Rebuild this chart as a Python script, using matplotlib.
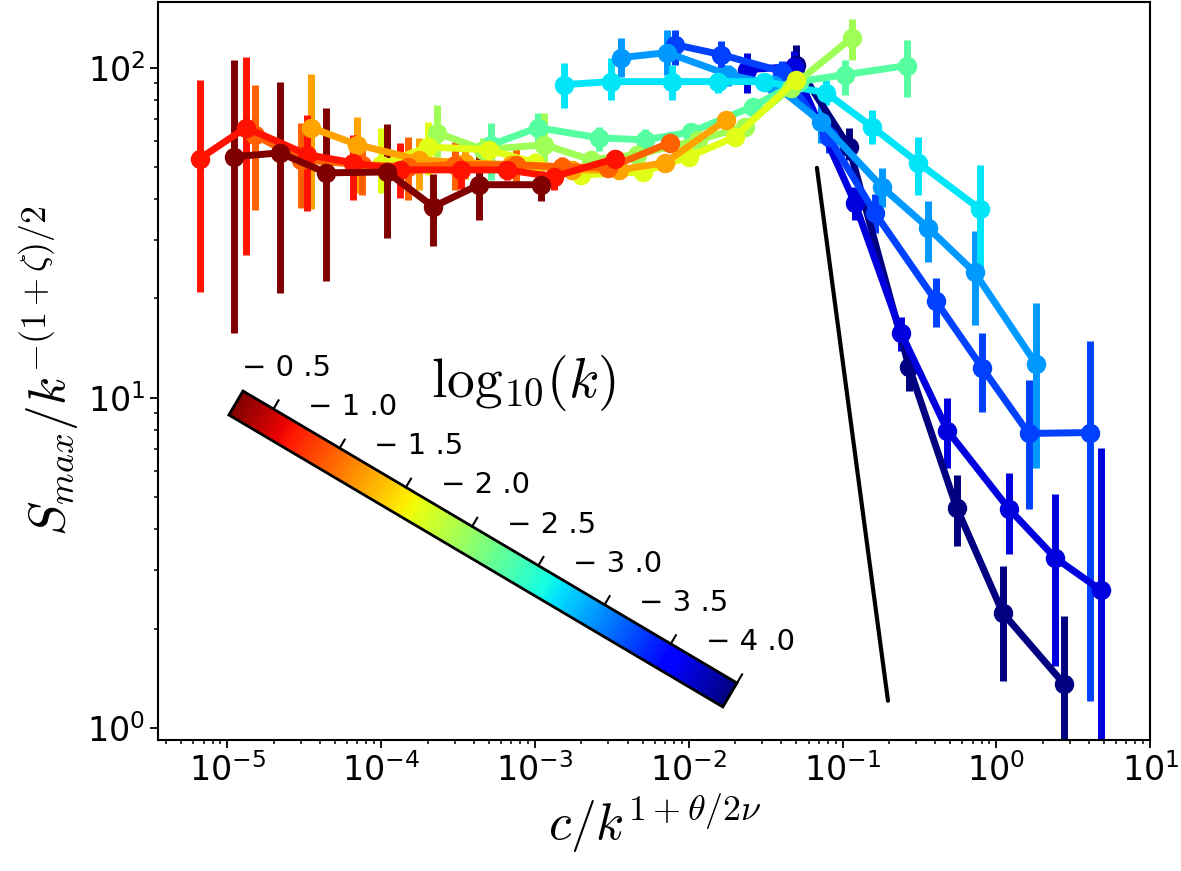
import numpy as np
import matplotlib.pyplot as plt
from matplotlib.collections import PolyCollection
from matplotlib.patches import Polygon
from matplotlib.ticker import LogLocator

plt.rcParams['mathtext.fontset'] = 'cm'

# ── data ──
log10_k = [-0.27, -0.69, -0.99, -1.26, -1.68, -1.97, -2.30, -2.69, -2.97, -3.30, -3.69, -4.00]

c_scaled = [
    [1.1e-5, 2.2e-5, 4.4e-5, 1.09e-4, 2.18e-4, 4.33e-4, 1.09e-3],
    [6.6e-6, 1.32e-5, 3.3e-5, 6.6e-5, 1.32e-4, 3.3e-4, 6.6e-4, 1.32e-3, 3.3e-3],
    [1.5e-5, 3.0e-5, 7.5e-5, 1.5e-4, 3.0e-4, 7.5e-4, 1.5e-3, 3.0e-3, 7.5e-3],
    [3.5e-5, 7.0e-5, 1.75e-4, 3.5e-4, 7.0e-4, 1.75e-3, 3.5e-3, 7.0e-3, 1.75e-2],
    [1.0e-4, 2.0e-4, 5.0e-4, 1.0e-3, 2.0e-3, 5.0e-3, 1.0e-2, 2.0e-2, 5.0e-2],
    [2.3e-4, 4.6e-4, 1.15e-3, 2.3e-3, 4.6e-3, 1.15e-2, 2.3e-2, 4.6e-2, 0.115],
    [5.2e-4, 1.04e-3, 2.6e-3, 5.2e-3, 1.04e-2, 2.6e-2, 5.2e-2, 0.104, 0.26],
    [1.55e-3, 3.1e-3, 7.8e-3, 1.55e-2, 3.1e-2, 7.8e-2, 0.155, 0.31, 0.78],
    [3.6e-3, 7.2e-3, 1.8e-2, 3.6e-2, 7.2e-2, 0.18, 0.36, 0.72, 1.8],
    [8.1e-3, 1.62e-2, 4.05e-2, 8.1e-2, 0.162, 0.405, 0.81, 1.62, 4.05],
    [2.4e-2, 4.8e-2, 0.12, 0.24, 0.48, 1.2, 2.4, 4.8],
    [0.05, 0.11, 0.27, 0.55, 1.1, 2.75],
]

s_scaled = [
    [53.7, 55.2, 48.0, 48.3, 37.9, 44.2, 44.2],
    [53.0, 65.8, 54.5, 51.5, 49.0, 49.0, 49.0, 46.7, 53.0],
    [62.6, 52.6, 50.8, 50.1, 50.8, 50.8, 50.1, 49.7, 59.2],
    [65.8, 58.4, 52.6, 51.5, 50.8, 49.0, 49.0, 51.5, 69.5],
    [50.8, 57.5, 56.4, 51.5, 47.3, 48.3, 53.7, 61.7, 92.0],
    [63.5, 56.4, 58.4, 52.6, 54.5, 60.4, 66.2, 87.0, 123.3],
    [58.4, 65.8, 61.3, 60.4, 63.9, 76.2, 90.7, 95.2, 101.4],
    [88.8, 90.7, 90.7, 90.7, 90.7, 83.9, 66.2, 51.5, 37.3],
    [107.2, 111.0, 95.2, 88.8, 68.6, 43.5, 32.7, 24.0, 12.7],
    [117.4, 109.5, 97.3, 61.7, 36.3, 19.6, 12.3, 7.80, 7.85],
    [98.6, 100.7, 38.9, 15.7, 7.96, 4.62, 3.28, 2.61],
    [102.1, 57.5, 12.4, 4.65, 2.23, 1.36],
]

s_low = [
    [15.7, 20.7, 22.6, 30.5, 28.8, 34.6, 39.5],
    [20.9, 27.1, 36.8, 39.7, 40.3, 42.9, 45.7, 42.6, 49.7],
    [37.1, 37.6, 41.2, 39.7, 42.6, 45.1, 47.0, 47.0, 56.0],
    [37.3, 41.8, 42.6, 46.0, 47.0, 46.0, 46.0, 48.5, 66.0],
    [41.8, 47.3, 50.8, 48.0, 44.5, 45.5, 50.5, 58.0, 87.0],
    [53.7, 52.0, 51.5, 49.5, 51.0, 57.0, 62.5, 83.0, 105.8],
    [45.7, 58.4, 56.0, 56.0, 60.0, 72.0, 86.0, 82.8, 81.7],
    [75.6, 80.0, 80.0, 84.0, 86.0, 77.2, 58.8, 41.2, 24.4],
    [93.9, 95.2, 88.0, 83.0, 59.2, 37.9, 25.8, 16.6, 6.15],
    [102.1, 100.0, 90.0, 55.0, 31.6, 16.4, 9.04, 4.62, 1.21],
    [83.9, 90.0, 34.6, 13.9, 6.11, 3.37, 1.54, 0.5],
    [85.7, 52.6, 10.5, 3.57, 1.39, 0.5],
]

s_high = [
    [105.7, 90.7, 75.6, 67.6, 47.7, 54.1, 48.7],
    [92.0, 108.0, 72.0, 62.6, 59.2, 53.7, 52.6, 50.8, 56.4],
    [88.8, 68.1, 59.2, 61.7, 59.6, 57.2, 53.5, 52.5, 62.5],
    [95.9, 71.0, 61.3, 56.0, 54.0, 52.0, 52.0, 54.5, 73.0],
    [65.8, 68.6, 60.4, 55.0, 50.0, 51.0, 57.0, 65.5, 97.0],
    [77.2, 61.0, 73.0, 56.0, 58.0, 64.0, 70.0, 91.0, 139.9],
    [68.1, 73.0, 66.0, 65.0, 68.0, 80.0, 95.0, 105.8, 121.6],
    [103.6, 107.2, 102.1, 98.0, 96.0, 92.0, 74.6, 61.7, 50.8],
    [123.3, 130.4, 102.0, 95.0, 80.0, 49.7, 39.5, 32.0, 19.4],
    [130.4, 120.0, 105.0, 69.0, 41.5, 23.1, 15.7, 11.3, 14.9],
    [111.0, 112.0, 43.5, 17.6, 10.0, 5.90, 5.13, 7.03],
    [117.4, 65.7, 13.9, 5.82, 3.10, 2.19],
]

# guide line (power law)
guide_c = [0.068, 0.197]
guide_s = [49.7, 1.21]

cbar_ticks = [-0.5, -1.0, -1.5, -2.0, -2.5, -3.0, -3.5, -4.0]

# ── figure ──
fig = plt.figure(figsize=(11.81, 8.71), dpi=100)
ax = fig.add_axes([0.134, 0.1504, 0.840, 0.8473])

cmap = plt.get_cmap('jet')
norm = plt.Normalize(min(log10_k), max(log10_k))

for i in np.argsort(log10_k):
    x = np.array(c_scaled[i])
    y = np.array(s_scaled[i])
    err = [y - np.array(s_low[i]), np.array(s_high[i]) - y]
    ax.errorbar(x, y, yerr=err, color=cmap(norm(log10_k[i])), marker='o',
                ms=13, lw=5, elinewidth=5, capsize=0)

ax.plot(guide_c, guide_s, color='k', lw=3, solid_capstyle='round')

ax.set_xscale('log')
ax.set_yscale('log')
ax.set_xlim(3.55e-6, 10)
ax.set_ylim(0.92, 158)
ax.xaxis.set_major_locator(LogLocator(base=10, numticks=20))
ax.yaxis.set_major_locator(LogLocator(base=10, numticks=20))
ax.tick_params(which='major', labelsize=24, length=6, width=1.3)
ax.tick_params(which='minor', length=3.2, width=1.1)
for sp in ax.spines.values():
    sp.set_linewidth(1.5)

ax.set_xlabel(r'$c/k^{1+\theta/2\nu}$', fontsize=37, labelpad=2)
ax.set_ylabel(r'$S_{max}/k^{-(1+\zeta)/2}$', fontsize=37, labelpad=4)

# ── tilted colorbar (overlay in pixel coords) ──
ov = fig.add_axes([0, 0, 1, 1])
ov.set_xlim(0, 1181)
ov.set_ylim(871, 0)
ov.axis('off')

top_left = np.array([243.0, 391.0])
top_right = np.array([737.0, 683.0])
bar_w = 27.8
vec = top_right - top_left
L = np.hypot(*vec)
u = vec / L
n_out = np.array([u[1], -u[0]])
v_left, v_right = max(log10_k), min(log10_k)

nseg = 200
quads, vals = [], []
for j in range(nseg):
    s0, s1 = L * j / nseg, L * (j + 1) / nseg
    p0 = top_left + u * s0
    p1 = top_left + u * s1
    quads.append([p0, p1, p1 - bar_w * n_out, p0 - bar_w * n_out])
    vals.append(v_left + (v_right - v_left) * (s0 + s1) / (2 * L))
pc = PolyCollection(quads, array=np.array(vals), cmap=cmap, norm=norm,
                    edgecolors='face', linewidths=0.5, zorder=5)
ov.add_collection(pc)
outline = Polygon([top_left, top_right, top_right - bar_w * n_out,
                   top_left - bar_w * n_out], closed=True, fill=False,
                  edgecolor='k', lw=2, zorder=6)
ov.add_patch(outline)

for t in cbar_ticks:
    s = (v_left - t) / (v_left - v_right) * L
    base = top_left + u * s
    tip = base + 10 * n_out
    ov.plot([base[0], tip[0]], [base[1], tip[1]], color='k', lw=1.5, zorder=6)
    txt = '\u2212 {} .{}'.format(*f'{abs(t):.1f}'.split('.'))
    ov.text(base[0] + 13, base[1] - 41, txt, fontsize=21, ha='center',
            va='center', zorder=6)

ov.text(523, 383, r'$\mathrm{log}_{10}(k)$', fontsize=40, ha='center',
        va='center', zorder=6)

fig.savefig('out.png', dpi=100)
